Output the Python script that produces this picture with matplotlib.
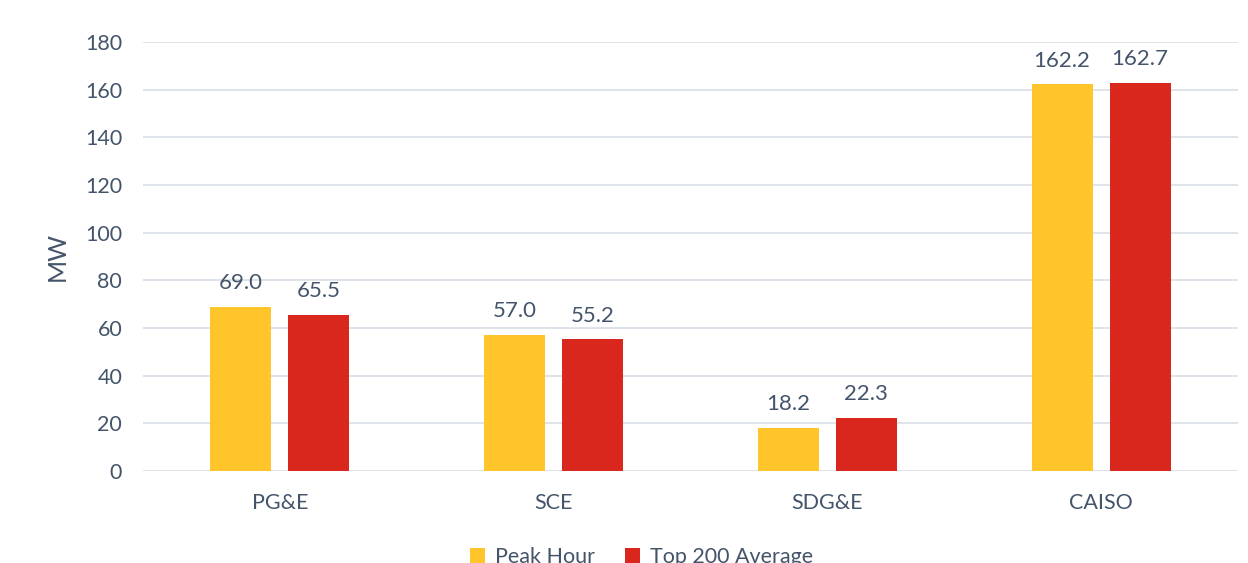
import matplotlib
matplotlib.use("Agg")
import matplotlib.pyplot as plt
import numpy as np

categories = ["PG&E", "SCE", "SDG&E", "CAISO"]
peak_hour = [69.0, 57.0, 18.2, 162.2]
top200_avg = [65.5, 55.2, 22.3, 162.7]
series_names = ["Peak Hour", "Top 200 Average"]
yticks = [0, 20, 40, 60, 80, 100, 120, 140, 160, 180]

TXT = "#44546A"
YEL = "#FFC52A"
RED = "#D9271D"
plt.rcParams['font.family'] = ['Lato', 'DejaVu Sans']

fig = plt.figure(figsize=(12.48, 5.63), dpi=100)
ax = fig.add_axes([0.1146, 0.1634, 0.8774, 0.762])

x = np.arange(len(categories))
w = 0.223
off = 0.1425
b1 = ax.bar(x - off, peak_hour, w, color=YEL, label=series_names[0], zorder=3)
b2 = ax.bar(x + off, top200_avg, w, color=RED, label=series_names[1], zorder=3)
for bars, vals in ((b1, peak_hour), (b2, top200_avg)):
    for r, v in zip(bars, vals):
        ax.annotate(f"{v:.1f}", (r.get_x() + r.get_width() / 2, v), xytext=(0, 10),
                    textcoords="offset points", ha="center", va="bottom",
                    fontsize=16, color=TXT)

ax.set_xlim(-0.5, len(categories) - 0.5)
ax.set_ylim(0, 180)
ax.set_yticks(yticks)
ax.set_xticks(x)
ax.set_xticklabels(categories)
ax.tick_params(axis='both', length=0, labelsize=15.5, colors=TXT)
ax.tick_params(axis='y', pad=15)
ax.tick_params(axis='x', pad=16)
ax.grid(axis='y', color="#D9DEE6", linewidth=1.2, zorder=0)
for s in ax.spines.values():
    s.set_visible(False)
ax.set_ylabel("MW", fontsize=18, color=TXT, labelpad=12)

fig.legend(handles=[b1, b2], loc="upper center", bbox_to_anchor=(0.514, 0.062),
           ncol=2, frameon=False, fontsize=15.5, labelcolor=TXT,
           handlelength=0.7, handleheight=0.7, columnspacing=1.4, handletextpad=0.45)

fig.savefig("out.png", dpi=100)
